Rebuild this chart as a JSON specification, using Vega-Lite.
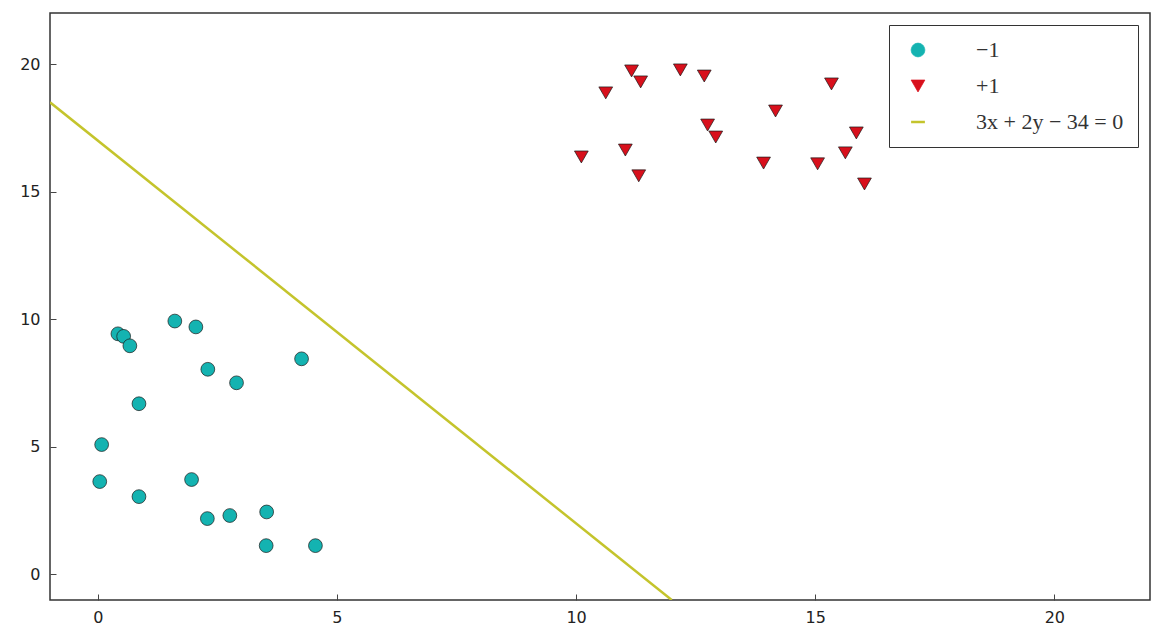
{
  "$schema": "https://vega.github.io/schema/vega-lite/v6.json",
  "autosize": {"type": "none"},
  "padding": {"left": 50, "top": 13, "right": 11, "bottom": 33},
  "width": 1100,
  "height": 587,
  "background": "white",
  "config": {
    "view": {"stroke": "#333", "strokeWidth": 1.5},
    "axis": {"grid": false, "domain": false, "labelFont": "DejaVu Sans", "labelFontSize": 16, "labelColor": "#222", "ticks": true, "tickSize": -6, "tickColor": "#444", "tickWidth": 1, "title": null}
  },
  "datasets": {
    "pts": [
      {"x": 0.04, "y": 3.64, "cls": "−1"},
      {"x": 0.08, "y": 5.09, "cls": "−1"},
      {"x": 0.42, "y": 9.43, "cls": "−1"},
      {"x": 0.54, "y": 9.33, "cls": "−1"},
      {"x": 0.67, "y": 8.96, "cls": "−1"},
      {"x": 0.86, "y": 6.69, "cls": "−1"},
      {"x": 0.86, "y": 3.05, "cls": "−1"},
      {"x": 1.61, "y": 9.93, "cls": "−1"},
      {"x": 2.05, "y": 9.70, "cls": "−1"},
      {"x": 1.96, "y": 3.72, "cls": "−1"},
      {"x": 2.30, "y": 8.04, "cls": "−1"},
      {"x": 2.90, "y": 7.51, "cls": "−1"},
      {"x": 2.29, "y": 2.19, "cls": "−1"},
      {"x": 2.76, "y": 2.31, "cls": "−1"},
      {"x": 3.53, "y": 2.45, "cls": "−1"},
      {"x": 3.52, "y": 1.13, "cls": "−1"},
      {"x": 4.26, "y": 8.45, "cls": "−1"},
      {"x": 4.55, "y": 1.13, "cls": "−1"},
      {"x": 11.16, "y": 19.73, "cls": "+1"},
      {"x": 11.35, "y": 19.30, "cls": "+1"},
      {"x": 10.62, "y": 18.87, "cls": "+1"},
      {"x": 12.18, "y": 19.77, "cls": "+1"},
      {"x": 12.68, "y": 19.53, "cls": "+1"},
      {"x": 15.34, "y": 19.22, "cls": "+1"},
      {"x": 14.17, "y": 18.16, "cls": "+1"},
      {"x": 12.75, "y": 17.61, "cls": "+1"},
      {"x": 12.92, "y": 17.14, "cls": "+1"},
      {"x": 15.86, "y": 17.30, "cls": "+1"},
      {"x": 10.11, "y": 16.36, "cls": "+1"},
      {"x": 11.03, "y": 16.63, "cls": "+1"},
      {"x": 11.31, "y": 15.62, "cls": "+1"},
      {"x": 13.92, "y": 16.12, "cls": "+1"},
      {"x": 15.05, "y": 16.09, "cls": "+1"},
      {"x": 15.63, "y": 16.52, "cls": "+1"},
      {"x": 16.03, "y": 15.30, "cls": "+1"}
    ],
    "line": [
      {"x": -1, "y": 18.5, "cls": "3x + 2y − 34 = 0"},
      {"x": 12, "y": -1, "cls": "3x + 2y − 34 = 0"}
    ]
  },
  "layer": [
    {
      "data": {"name": "line"},
      "mark": {"type": "line", "strokeWidth": 2.5, "clip": true},
      "encoding": {
        "x": {"field": "x", "type": "quantitative", "scale": {"domain": [-1, 22], "nice": false, "zero": false}, "axis": {"values": [0, 5, 10, 15, 20], "labelPadding": 15}},
        "y": {"field": "y", "type": "quantitative", "scale": {"domain": [-1, 22], "nice": false, "zero": false}, "axis": {"values": [0, 5, 10, 15, 20], "labelPadding": 16}},
        "color": {"field": "cls", "type": "nominal",
          "scale": {"domain": ["−1", "+1", "3x + 2y − 34 = 0"], "range": ["#14b3b1", "#d8101c", "#c4c42c"]},
          "legend": {
            "title": null, "orient": "top-right", "offset": 12,
            "strokeColor": "#333", "fillColor": "white", "padding": 14,
            "labelFont": "Liberation Serif", "labelFontSize": 22, "labelColor": "#333",
            "symbolSize": 190, "rowPadding": 14, "labelOffset": 47, "symbolOffset": 4,
            "labelLimit": 400,
            "encode": {"symbols": {"update": {
              "stroke": {"signal": "datum.index === 2 ? '#c4c42c' : '#1a1a1a'"},
              "strokeWidth": {"signal": "datum.index === 2 ? 2.5 : 0.7"}
            }}}
          }
        }
      }
    },
    {
      "data": {"name": "pts"},
      "mark": {"type": "point", "filled": true, "opacity": 1, "stroke": "#1a1a1a", "strokeWidth": 0.7, "size": 190},
      "encoding": {
        "x": {"field": "x", "type": "quantitative"},
        "y": {"field": "y", "type": "quantitative"},
        "color": {"field": "cls", "type": "nominal"},
        "shape": {"field": "cls", "type": "nominal",
          "scale": {"domain": ["−1", "+1", "3x + 2y − 34 = 0"], "range": ["circle", "triangle-down", "stroke"]}}
      }
    }
  ]
}
